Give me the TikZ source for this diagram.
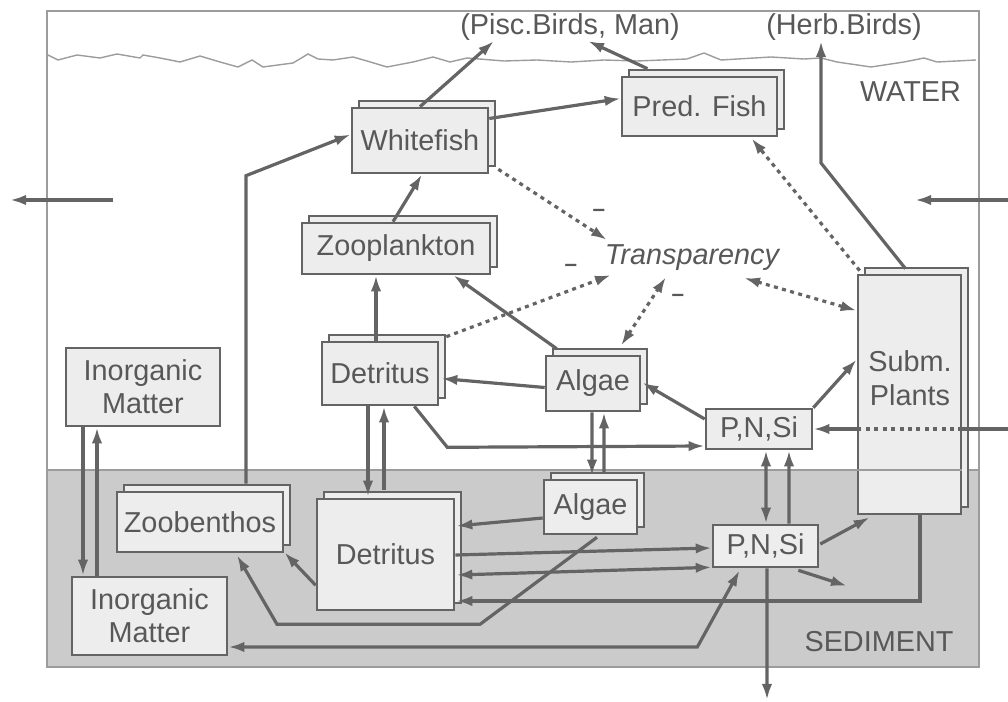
\documentclass[tikz,border=0pt]{standalone}
\usepackage{fontspec}
\setmainfont{Liberation Sans}
\usepackage{xcolor}
\usetikzlibrary{arrows.meta, positioning, calc, shadows}

\definecolor{inkgray}{HTML}{646464}
\definecolor{textgray}{HTML}{585858}
\definecolor{boxfill}{HTML}{EDEDED}
\definecolor{mudfill}{HTML}{CBCBCB}
\definecolor{framegray}{HTML}{9C9C9C}

\begin{document}
\begin{tikzpicture}[x=0.025cm, y=-0.025cm,
    font=\fontsize{20.5}{23.5}\selectfont, text=textgray,
    >={Latex[length=0.4cm, width=0.26cm]},
    poolbox/.style={rectangle, draw=inkgray, fill=boxfill, line width=0.065cm, inner sep=0pt, align=center},
    stackbox/.style={poolbox, copy shadow={shadow xshift=0.175cm, shadow yshift=0.175cm}},
    flow/.style={draw=inkgray, line width=0.08cm},
    effect/.style={draw=inkgray, line width=0.08cm, dash pattern=on 0.1cm off 0.11cm}
]
\useasboundingbox (0,0) rectangle (1008,702);

% lake and sediment
\coordinate (mudline) at (47,470);
\fill[mudfill] (mudline) rectangle (979,667);
\draw[framegray, line width=0.045cm] (47,11) rectangle (979,667);
\draw[framegray, line width=0.045cm] (mudline) -- (979,470);
\draw[framegray, line width=0.035cm] (48,55) -- (58,60) -- (77,55) -- (100,58) -- (117,54) -- (140,58)
    -- (143,55) -- (160,58) -- (180,62) -- (200,56) -- (220,62) -- (238,67) -- (252,60) -- (263,67)
    -- (293,63) -- (308,54) -- (318,59) -- (333,60) -- (353,57) -- (367,61) -- (387,67) -- (413,62)
    -- (433,57) -- (450,62) -- (467,58) -- (504,61) -- (537,60) -- (571,62) -- (604,60) -- (637,61)
    -- (687,59) -- (704,53) -- (721,60) -- (771,57) -- (804,59) -- (821,58) -- (837,62) -- (871,67)
    -- (904,62) -- (924,58) -- (937,62) -- (976,60);

% pools
\node[stackbox, minimum width=3.4cm, minimum height=1.625cm] (whitefish) at (420,140.5) {Whitefish};
\node[stackbox, minimum width=3.875cm, minimum height=1.475cm] (predfish) at (699.5,106.5) {Pred. Fish};
\node[stackbox, minimum width=4.7cm, minimum height=1.275cm] (zoopl) at (396,248.5) {Zooplankton};
\node[stackbox, minimum width=2.9cm, minimum height=1.575cm] (detw) at (380,373.5) {Detritus};
\node[stackbox, minimum width=2.35cm, minimum height=1.375cm] (algw) at (593,383.5) {Algae};
\node[stackbox, minimum width=2.325cm, minimum height=1.35cm] (algs) at (590.5,507) {Algae};
\node[poolbox, minimum width=2.65cm, minimum height=1.0cm] (pnsiw) at (759,429) {P,N,Si};
\node[poolbox, minimum width=2.625cm, minimum height=1.05cm] (pnsis) at (765.5,546) {P,N,Si};
\node[poolbox, minimum width=3.85cm, minimum height=1.95cm] (inorgw) at (143,387) {Inorganic\\Matter};
\node[poolbox, minimum width=3.875cm, minimum height=1.95cm] (inorgs) at (149.5,616) {Inorganic\\Matter};
\node[stackbox, minimum width=4.15cm, minimum height=1.5cm] (zoob) at (200,522) {Zoobenthos};
\node[stackbox, minimum width=3.425cm, minimum height=2.775cm] (dets) at (385.5,554.5) {Detritus};
\node[stackbox, minimum width=2.575cm, minimum height=5.975cm] (plants) at (909.5,394.5) {};
\node[align=center, font=\fontsize{20.5}{24.5}\selectfont] (plantlbl) at (910,378) {Subm.\\Plants};
\draw[framegray, line width=0.045cm] (plants.west |- mudline) -- (plants.east |- mudline);

% labels
\node (pisc) at (570,27) {(Pisc.Birds, Man)};
\node (herb) at (844,27) {(Herb.Birds)};
\node (water) at (910.5,92) {WATER};
\node (sediment) at (879,642) {SEDIMENT};
\node[font=\itshape\fontsize{20.5}{23.5}\selectfont] (transp) at (692,258) {Transparency};
\node[font=\bfseries\fontsize{16}{18}\selectfont] (minusa) at (599,213) {–};
\node[font=\bfseries\fontsize{16}{18}\selectfont] (minusb) at (571,268) {–};
\node[font=\bfseries\fontsize{16}{18}\selectfont] (minusc) at (678,298) {–};

% food web in the water
\draw[flow, ->] (whitefish.north) -- ($(pisc)+(-76,14)$);
\draw[flow, ->] ($(predfish.north)+(-52,-7)$) -- ($(pisc)+(18,14)$);
\draw[flow, ->] ($(whitefish.east)+(0,-22)$) -- ($(predfish.west)+(0,-8)$);
\draw[flow, ->] ($(zoopl.north)+(-3,0)$) -- ($(whitefish.south)+(2,0)$);
\draw[flow, ->] ($(detw.north)+(-4,0)$) -- ($(zoopl.south)+(-20,0)$);
\draw[flow, ->] ($(algw.north west)+(12,-6)$) -- ($(zoopl.south east)+(-38,0)$);
\draw[flow, ->] ($(zoob.north)+(46,-7)$) -- ++(0,-308) -- ($(whitefish.west)+(0,-6)$);
\coordinate (herbbend) at (821,163);
\draw[flow, ->] ($(plants.north)+(-4,-5)$) -- (herbbend) -- ($(herb)+(-23,14)$);

% transparency
\draw[effect, ->] ($(whitefish.south east)+(9,-5)$) -- ($(transp)+(-85,-18)$);
\draw[effect, ->] ($(detw.north east)+(7,-4)$) -- ($(transp)+(-81,17)$);
\draw[effect, <->] ($(algw.north)+(28,-9)$) -- ($(transp)+(-26,19)$);
\draw[effect, <->] ($(transp)+(52,20)$) -- ($(plants.north west)+(0,37)$);
\draw[effect, ->] ($(plants.north west)+(3,-3)$) -- ($(predfish.south)+(52,1)$);

% nutrients in the water
\draw[flow, ->] ($(algw.west)+(0,4)$) -- ($(detw.east)+(2,5)$);
\draw[flow, ->] ($(detw.south east)+(-25,0)$) -- ++(33,41) -- ($(pnsiw.west)+(0,17)$);
\draw[flow, ->] ($(pnsiw.west)+(0,-10)$) -- ($(algw.east)+(1,-1)$);
\draw[flow, ->] (pnsiw.north east) -- ($(plants.west)+(0,-35)$);
\coordinate (eastin) at (1008,429);
\draw[flow] (eastin) -- (eastin -| plants.east);
\draw[effect] (eastin -| plants.east) -- (eastin -| plants.west);
\draw[flow, ->] (eastin -| plants.west) -- (pnsiw.east);

% exchange water / sediment
\draw[flow, ->] ($(algw.south)+(-1,0)$) -- ($(algs.north)+(1.5,-3)$);
\draw[flow, ->] ($(algs.north)+(13.5,-6)$) -- ($(algw.south)+(11,0)$);
\draw[flow, ->] ($(detw.south)+(-12,0)$) -- ($(dets.north)+(-17.5,-1)$);
\draw[flow, ->] ($(dets.north)+(-1.5,-8)$) -- ($(detw.south)+(4,0)$);
\draw[flow, ->] ($(inorgw.south)+(-60,0)$) -- ($(inorgs.north)+(-66.5,0)$);
\draw[flow, ->] ($(inorgs.north)+(-52.5,0)$) -- ($(inorgw.south)+(-46,0)$);
\draw[flow, <->] ($(pnsiw.south)+(7,0)$) -- ($(pnsis.north)+(0.5,0)$);
\draw[flow, ->] ($(pnsis.north)+(23.5,0)$) -- ($(pnsiw.south)+(30,0)$);

% sediment
\draw[flow, ->] ($(algs.west)+(0,11)$) -- ($(dets.east)+(1,-28.5)$);
\draw[flow, ->] ($(dets.east)+(0,0.5)$) -- ($(pnsis.west)+(0,2)$);
\draw[flow, <->] ($(dets.east)+(1,20.5)$) -- ($(pnsis.south west)+(0,-1)$);
\draw[flow, ->] ($(plants.south)+(10.5,0)$) |- ($(dets.east)+(1,46.5)$);
\draw[flow, ->] ($(dets.south west)+(0,-26)$) -- ($(zoob.south east)+(0,-1)$);
\draw[flow, ->] ($(algs.south)+(6.5,2)$) -- ++(-117,87) -- ++(-203,0) -- ($(zoob.south)+(37,2)$);
\draw[flow, <->] ($(inorgs.east)+(0,31)$) -- ++(469,0) -- ($(pnsis.south west)+(28,2)$);
\draw[flow, ->] ($(pnsis.east)+(1,-2)$) -- ($(plants.south west)+(13,2)$);
\coordinate (burial) at (847,586);
\draw[flow, ->] ($(pnsis.south east)+(-21,2)$) -- (burial);
\coordinate (outflow) at (767,700);
\draw[flow, ->] ($(pnsis.south)+(1.5,0)$) -- (outflow);

% in- and outflow
\coordinate (westin) at (113,200);
\coordinate (westout) at (10,200);
\draw[flow, ->] (westin) -- (westout);
\coordinate (eastflow) at (1008,200);
\coordinate (eastend) at (915,200);
\draw[flow, ->] (eastflow) -- (eastend);
\end{tikzpicture}
\end{document}
